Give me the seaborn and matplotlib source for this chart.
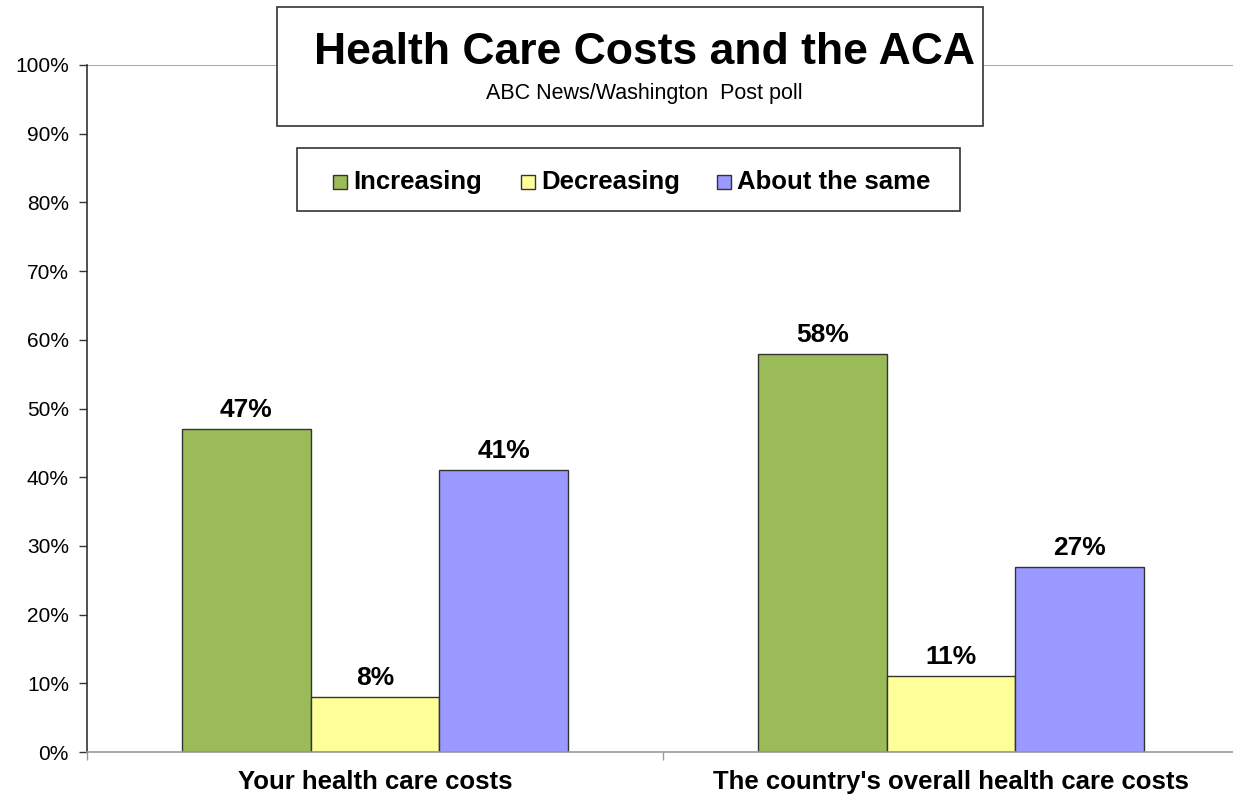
import pandas as pd
import matplotlib.pyplot as plt
import seaborn as sns
from matplotlib.patches import Rectangle
from matplotlib.ticker import PercentFormatter, FixedLocator

# data
categories = ["Your health care costs", "The country's overall health care costs"]
responses = ["Increasing", "Decreasing", "About the same"]
increasing = [47, 58]
decreasing = [8, 11]
about_same = [41, 27]
colors = ["#9BBB59", "#FFFF99", "#9999FF"]

rows = []
for i, cat in enumerate(categories):
    for resp, vals in zip(responses, [increasing, decreasing, about_same]):
        rows.append({"category": cat, "response": resp, "value": vals[i]})
df = pd.DataFrame(rows)

sns.set_style("white")
plt.rcParams["font.family"] = ["Liberation Sans", "DejaVu Sans"]
plt.rcParams["text.color"] = "black"

fig = plt.figure(figsize=(12.33, 7.95), dpi=100)
ax = fig.add_axes([87 / 1233, 1 - 752 / 795, 1152 / 1233, 687 / 795])

sns.barplot(data=df, x="category", y="value", hue="response", hue_order=responses,
            palette=colors, width=0.67, edgecolor="#333333", linewidth=1,
            saturation=1, legend=False, ax=ax)

for cont in ax.containers:
    ax.bar_label(cont, labels=[f"{v:.0f}%" for v in cont.datavalues], padding=5,
                 fontsize=19, fontweight="bold", color="black")

ax.set_xlim(-0.5, 1.5)
ax.set_ylim(0, 100)
ax.yaxis.set_major_locator(FixedLocator(range(0, 101, 10)))
ax.yaxis.set_major_formatter(PercentFormatter(decimals=0))
ax.tick_params(axis="y", labelsize=15, length=6, width=1, color="#333333",
               left=True, pad=7, labelcolor="black")
ax.tick_params(axis="x", which="major", length=0, labelsize=18.5, pad=13,
               labelcolor="black")
for lab in ax.get_xticklabels():
    lab.set_fontweight("bold")
ax.xaxis.set_minor_locator(FixedLocator([-0.5, 0.5, 1.5]))
ax.tick_params(axis="x", which="minor", bottom=True, length=6, width=1, color="#999999")
ax.set_xlabel("")
ax.set_ylabel("")

ax.axhline(100, color="#999999", lw=1.2, zorder=0)
for s in ["top", "right"]:
    ax.spines[s].set_visible(False)
ax.spines["left"].set_color("#333333")
ax.spines["left"].set_linewidth(1.2)
ax.spines["bottom"].set_color("#999999")
ax.spines["bottom"].set_linewidth(1.2)

# title box
fig.patches.append(Rectangle((277 / 1233, 1 - 126 / 795), 706 / 1233, 119 / 795,
                             transform=fig.transFigure, facecolor="white",
                             edgecolor="#333333", lw=1.2, zorder=5))
fig.text(644 / 1233, 1 - 53 / 795, "Health Care Costs and the ACA", ha="center",
         va="center", fontsize=32, fontweight="bold", zorder=6)
fig.text(644 / 1233, 1 - 94 / 795, "ABC News/Washington  Post poll", ha="center",
         va="center", fontsize=15.5, zorder=6)

# legend box
fig.patches.append(Rectangle((297 / 1233, 1 - 211 / 795), 663 / 1233, 63 / 795,
                             transform=fig.transFigure, facecolor="white",
                             edgecolor="#333333", lw=1.2, zorder=5))
leg_x = [333, 521, 717]
for x, resp, c in zip(leg_x, responses, colors):
    fig.patches.append(Rectangle((x / 1233, 1 - 189 / 795), 14 / 1233, 14 / 795,
                                 transform=fig.transFigure, facecolor=c,
                                 edgecolor="#333333", lw=1, zorder=6))
    fig.text((x + 20) / 1233, 1 - 182 / 795, resp, ha="left", va="center",
             fontsize=18.5, fontweight="bold", zorder=6)

plt.savefig("out.png", dpi=100)
plt.close()
